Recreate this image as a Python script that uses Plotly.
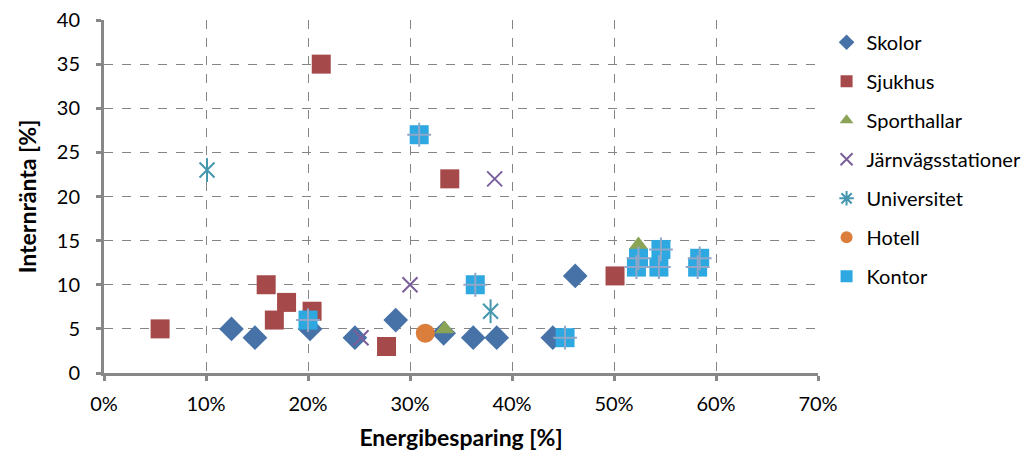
import plotly.graph_objects as go

# Energibesparing [%] och internränta [%] per byggnadstyp
skolor_x = [12.5, 14.8, 20.2, 24.6, 28.6, 33.3, 36.2, 38.5, 44.0, 46.2]
skolor_y = [5.0, 4.0, 5.0, 4.0, 6.0, 4.5, 4.0, 4.0, 4.0, 11.0]

sjukhus_x = [5.5, 15.9, 16.7, 17.9, 20.4, 21.3, 27.7, 33.9, 50.1]
sjukhus_y = [5.0, 10.0, 6.0, 8.0, 7.0, 35.0, 3.0, 22.0, 11.0]

sporthallar_x = [33.4, 52.4]
sporthallar_y = [5.0, 14.5]

jarnvag_x = [25.2, 30.0, 38.3]
jarnvag_y = [4.0, 10.0, 22.0]

universitet_x = [10.1, 37.9]
universitet_y = [23.0, 7.0]

hotell_x = [31.5]
hotell_y = [4.5]

kontor_x = [20.0, 30.9, 36.4, 45.2, 52.4, 52.2, 54.6, 54.4, 58.4, 58.2]
kontor_y = [6.0, 27.0, 10.0, 4.0, 13.0, 12.0, 14.0, 12.0, 13.0, 12.0]

x_ticks = [0, 10, 20, 30, 40, 50, 60, 70]
y_ticks = [0, 5, 10, 15, 20, 25, 30, 35, 40]

FONT = "Lato"
AXIS_GREY = "#878787"
GRID_GREY = "#858585"

fig = go.Figure()

fig.add_trace(go.Scatter(
    x=skolor_x, y=skolor_y, mode="markers", name="Skolor", legendgroup="a",
    marker=dict(symbol="diamond", size=19, color="#4672A8", line=dict(width=0)),
))
fig.add_trace(go.Scatter(
    x=sjukhus_x, y=sjukhus_y, mode="markers", name="Sjukhus", legendgroup="b",
    marker=dict(symbol="square", size=19, color="#A5494A", line=dict(width=0)),
))
fig.add_trace(go.Scatter(
    x=sporthallar_x, y=sporthallar_y, mode="markers", name="Sporthallar", legendgroup="c",
    marker=dict(symbol="triangle-up", size=17, color="#8BA356", line=dict(width=0)),
))
fig.add_trace(go.Scatter(
    x=jarnvag_x, y=jarnvag_y, mode="markers", name="Järnvägsstationer", legendgroup="d",
    marker=dict(symbol="x-thin-open", size=15, color="#7A5F9A",
                line=dict(width=2, color="#7A5F9A")),
))
# Asterisk: diagonal cross plus a vertical stroke
fig.add_trace(go.Scatter(
    x=universitet_x, y=universitet_y, mode="markers", name="Universitet", legendgroup="e",
    showlegend=False,
    marker=dict(symbol="x-thin-open", size=15, color="#4497AE",
                line=dict(width=2, color="#4497AE")),
))
fig.add_trace(go.Scatter(
    x=universitet_x, y=universitet_y, mode="markers", name="Universitet", legendgroup="e",
    showlegend=False,
    marker=dict(symbol="line-ns-open", size=17, color="#4497AE",
                line=dict(width=2, color="#4497AE")),
))
fig.add_trace(go.Scatter(
    x=[None], y=[None], mode="markers", name="Universitet", legendgroup="e",
    marker=dict(symbol="asterisk-open", size=13, color="#4497AE",
                line=dict(width=2, color="#4497AE")),
))
fig.add_trace(go.Scatter(
    x=hotell_x, y=hotell_y, mode="markers", name="Hotell", legendgroup="f",
    marker=dict(symbol="circle", size=19, color="#DB7E3B", line=dict(width=0)),
))
fig.add_trace(go.Scatter(
    x=kontor_x, y=kontor_y, mode="markers", name="Kontor", legendgroup="g",
    marker=dict(symbol="square", size=19, color="#2DA8E0", line=dict(width=0)),
))
fig.add_trace(go.Scatter(
    x=kontor_x, y=kontor_y, mode="markers", name="Kontor", legendgroup="g",
    showlegend=False,
    marker=dict(symbol="cross-thin-open", size=17, color="#8FA7C9",
                line=dict(width=2, color="#8FA7C9")),
))

axis_common = dict(
    showline=True, linewidth=3, linecolor=AXIS_GREY,
    ticks="outside", ticklen=5, tickwidth=3, tickcolor=AXIS_GREY,
    showgrid=True, gridcolor=GRID_GREY, gridwidth=1, griddash="dash",
    zeroline=False, tickfont=dict(family=FONT, size=20, color="#000000"),
    mirror=False, automargin=False,
)

fig.update_xaxes(
    range=[0, 70], tickvals=x_ticks, ticktext=[f"{v}%" for v in x_ticks],
    ticklabelstandoff=6,
    title=dict(text="<b>Energibesparing [%]</b>", font=dict(family=FONT, size=23, color="#000000"),
               standoff=16),
    **axis_common,
)
fig.update_yaxes(
    range=[0, 40], tickvals=y_ticks, ticktext=[str(v) for v in y_ticks],
    ticklabelstandoff=12,
    title=dict(text="<b>Internränta [%]</b>", font=dict(family=FONT, size=23, color="#000000"),
               standoff=14),
    **axis_common,
)

fig.update_layout(
    width=1029, height=457,
    margin=dict(l=104, r=211, t=20, b=84, autoexpand=False),
    paper_bgcolor="white", plot_bgcolor="white",
    font=dict(family=FONT, size=20, color="#000000"),
    legend=dict(
        x=1.012, y=0.992, xanchor="left", yanchor="top",
        font=dict(family=FONT, size=20, color="#000000"),
        traceorder="grouped", tracegroupgap=10,
        itemsizing="constant", itemwidth=30, bgcolor="rgba(0,0,0,0)",
    ),
)

fig.write_html("out.html")
